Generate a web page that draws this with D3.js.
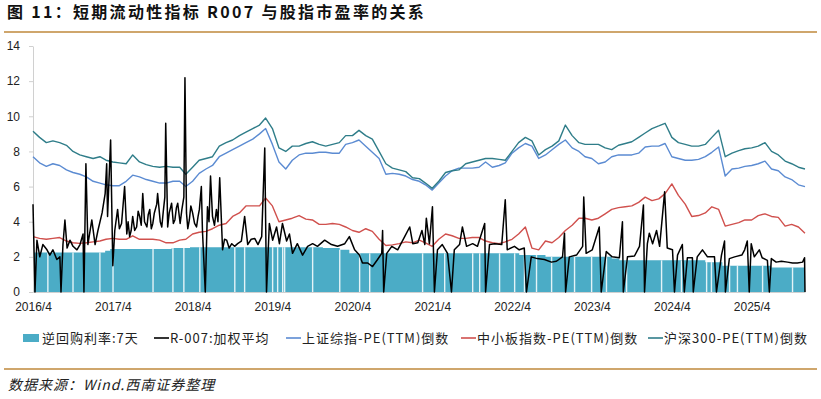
<!DOCTYPE html>
<meta charset="utf-8">
<style>
body { margin: 0; background: #fff; }
.axis text { font: 12px "Liberation Sans", Arial, sans-serif; fill: #222; }
.axis path, .axis line { stroke: #d0d0d0; }
.legend text { font: 13px "Noto Sans CJK SC", sans-serif; fill: #222; letter-spacing: 1px; }
</style>
<body>
<svg width="821" height="399"></svg>
<script src="https://d3js.org/d3.v7.min.js"></script>
<script>

// ---- data ----
var yTicks = [0, 2, 4, 6, 8, 10, 12, 14];
var xTickLabels = ["2016/4", "2017/4", "2018/4", "2019/4", "2020/4", "2021/4", "2022/4", "2023/4", "2024/4", "2025/4"];

// monthly, starting 2016/4
var peStart = "2016-04-01";
var hs300InvPE = [9.15,8.8,8.5,8.6,8.5,8.35,8.0,7.8,7.7,7.6,
  7.7,7.5,7.4,7.35,7.3,7.8,7.4,7.25,7.15,7.1,
  7.15,7.1,7.1,6.7,7.1,7.5,7.6,7.7,8.3,8.5,
  8.65,8.9,9.1,9.3,9.5,9.9,9.3,8.2,8.0,8.3,
  8.3,8.45,8.55,8.4,8.3,8.4,8.5,8.9,8.9,9.2,
  8.9,8.7,8.0,7.3,7.05,6.95,6.85,6.5,6.45,6.2,
  5.9,6.3,6.8,6.9,6.95,7.3,7.4,7.5,7.6,7.6,
  7.55,7.5,8.0,8.5,8.8,8.6,7.8,8.1,8.3,8.6,
  9.5,8.9,8.5,8.4,8.4,8.4,8.2,8.1,8.35,8.45,
  8.55,8.8,9.05,9.3,9.45,9.6,8.8,8.5,8.4,8.3,
  8.3,8.4,8.8,9.2,7.7,7.9,8.05,8.15,8.2,8.3,
  8.5,8.0,7.8,7.45,7.3,7.1,7.0];
var sseInvPE = [7.7,7.35,7.15,7.3,7.2,6.95,6.8,6.7,6.55,6.3,
  6.2,6.1,6.05,6.05,6.3,6.65,6.55,6.4,6.3,6.2,
  6.2,6.3,6.3,6.0,6.3,6.75,7.0,7.2,7.7,7.9,
  8.1,8.3,8.5,8.7,9.0,9.3,8.4,7.4,7.0,7.5,
  7.8,7.9,7.9,7.95,7.95,7.9,7.9,8.4,8.5,8.65,
  8.3,7.95,7.6,6.7,6.75,6.7,6.6,6.4,6.3,6.1,
  5.8,6.2,6.6,6.9,7.05,7.05,7.05,7.1,7.4,7.1,
  7.2,7.35,7.9,8.2,8.45,8.3,7.6,7.8,8.1,8.4,
  8.65,8.2,8.0,7.7,7.6,7.3,7.4,7.7,7.8,7.8,
  7.8,7.9,8.25,8.3,8.3,8.45,7.7,7.6,7.5,7.5,
  7.55,7.7,7.95,8.25,6.6,7.0,7.05,7.15,7.2,7.3,
  7.45,7.0,6.9,6.55,6.4,6.1,6.0];
var smeInvPE = [3.15,3.05,3.0,3.05,3.1,2.9,2.8,2.77,2.8,2.85,
  2.9,3.0,3.05,3.0,3.0,3.2,3.0,3.0,3.0,2.95,
  2.8,2.8,2.95,3.0,3.3,3.4,3.45,3.6,3.8,3.9,
  4.3,4.5,4.9,4.9,4.9,5.35,4.9,4.0,4.1,4.2,
  4.35,4.15,4.1,3.85,3.85,3.9,3.85,3.7,3.5,3.4,
  3.6,3.45,3.0,2.65,2.68,2.75,2.85,2.8,2.95,2.8,
  2.6,3.0,3.3,3.2,3.05,3.05,3.1,3.1,2.9,2.8,
  2.75,2.85,3.0,3.3,3.7,2.5,2.4,2.9,2.8,3.1,
  3.5,3.8,4.2,4.2,4.1,4.2,4.45,4.7,4.8,4.85,
  4.9,5.1,5.4,5.2,5.3,5.6,6.15,5.5,5.0,4.3,
  4.35,4.5,4.85,4.7,3.75,3.85,3.95,4.1,4.1,4.35,
  4.45,4.3,4.25,3.75,3.85,3.7,3.35];

// R-007 weighted average (zeros are the gaps the source plots as 0)
var r007 = [
  ["2016-04-01",5.0],["2016-04-10",0],["2016-04-19",2.95],["2016-05-02",2.0],["2016-05-16",2.7],
  ["2016-06-04",2.4],["2016-06-17",2.1],["2016-07-01",2.4],["2016-07-19",1.85],["2016-08-02",2.0],
  ["2016-08-07",0],["2016-08-16",2.7],["2016-08-25",4.1],["2016-09-04",2.5],["2016-09-17",2.95],
  ["2016-10-01",2.6],["2016-10-19",2.4],["2016-11-02",2.7],["2016-11-16",3.3],["2016-11-20",0],
  ["2016-11-29",7.3],["2016-12-08",2.7],["2016-12-26",4.1],["2017-01-10",2.7],["2017-01-23",3.5],
  ["2017-02-11",4.5],["2017-02-25",5.6],["2017-03-04",7.3],["2017-03-08",4.3],["2017-03-22",8.65],
  ["2017-04-01",1.5],["2017-04-10",3.5],["2017-04-23",4.7],["2017-05-01",3.6],["2017-05-11",3.9],
  ["2017-05-25",6.0],["2017-06-04",3.3],["2017-06-10",4.0],["2017-06-17",3.15],["2017-06-24",3.5],
  ["2017-07-01",4.3],["2017-07-10",3.5],["2017-07-19",3.7],["2017-07-26",4.6],["2017-08-02",4.3],
  ["2017-08-09",3.8],["2017-08-16",5.6],["2017-08-24",4.0],["2017-09-04",3.7],["2017-09-10",4.4],
  ["2017-09-17",4.7],["2017-09-24",3.6],["2017-10-01",3.9],["2017-10-08",4.5],["2017-10-19",5.0],
  ["2017-10-23",5.6],["2017-11-04",4.0],["2017-11-11",3.7],["2017-11-18",4.6],["2017-11-25",5.4],
  ["2017-11-29",9.6],["2017-12-08",3.7],["2017-12-15",4.5],["2017-12-26",5.05],["2018-01-03",3.9],
  ["2018-01-10",4.1],["2018-01-17",4.8],["2018-01-23",5.05],["2018-02-03",3.9],["2018-02-11",4.7],
  ["2018-02-20",5.4],["2018-02-25",12.2],["2018-03-04",4.5],["2018-03-10",3.6],["2018-03-17",4.1],
  ["2018-03-24",4.9],["2018-04-01",4.5],["2018-04-10",3.9],["2018-04-19",3.7],["2018-04-26",4.3],
  ["2018-05-02",4.7],["2018-05-11",6.0],["2018-05-16",3.5],["2018-05-29",0],["2018-06-08",4.85],
  ["2018-06-15",4.0],["2018-06-22",6.6],["2018-07-01",4.3],["2018-07-10",3.8],["2018-07-19",4.7],
  ["2018-07-26",4.0],["2018-08-03",6.5],["2018-08-16",2.4],["2018-08-25",3.0],["2018-09-04",2.95],
  ["2018-09-15",2.5],["2018-09-27",2.75],["2018-10-10",2.6],["2018-10-24",2.75],["2018-11-10",2.9],
  ["2018-11-25",4.3],["2018-12-09",2.7],["2018-12-25",3.0],["2019-01-10",3.05],["2019-01-25",2.7],
  ["2019-02-11",3.15],["2019-02-25",8.2],["2019-03-05",0],["2019-03-18",3.9],
  ["2019-04-02",2.95],["2019-04-20",3.7],["2019-05-03",2.75],["2019-05-17",3.9],["2019-06-05",2.9],
  ["2019-06-18",3.3],["2019-07-02",2.2],["2019-07-24",2.75],["2019-08-17",2.1],["2019-09-09",2.6],
  ["2019-10-02",2.75],["2019-10-24",2.6],["2019-11-26",2.95],["2019-12-27",2.7],["2020-01-24",2.6],
  ["2020-02-26",2.75],["2020-03-18",3.15],["2020-04-11",2.4],["2020-05-03",2.1],["2020-05-17",1.65],
  ["2020-06-10",1.65],["2020-07-02",1.45],["2020-07-25",1.85],["2020-08-13",2.2],["2020-08-17",3.5],
  ["2020-08-22",0],["2020-09-05",2.2],["2020-09-28",2.6],["2020-10-25",2.4],["2020-11-26",3.15],
  ["2020-12-19",3.7],["2021-01-02",2.75],["2021-01-25",2.8],["2021-02-13",3.5],["2021-02-26",2.7],
  ["2021-03-05",4.2],["2021-03-19",2.75],["2021-04-02",4.85],["2021-04-11",0],["2021-04-25",2.4],
  ["2021-05-17",2.7],["2021-06-10",2.2],["2021-06-28",0],["2021-07-11",2.4],["2021-08-04",2.7],
  ["2021-08-17",3.7],["2021-09-05",2.6],["2021-10-03",2.75],["2021-10-25",2.6],["2021-11-27",3.9],
  ["2021-12-01",0],["2021-12-19",2.7],["2022-01-12",2.75],["2022-02-13",2.7],["2022-03-01",5.25],
  ["2022-03-10",2.4],["2022-04-12",2.6],["2022-05-04",2.4],["2022-05-27",2.5],["2022-06-06",0],
  ["2022-06-28",2.0],["2022-07-25",1.9],["2022-08-27",1.85],["2022-09-28",1.7],["2022-10-21",1.75],
  ["2022-11-18",2.0],["2022-11-27",3.35],["2022-12-02",0],["2022-12-19",2.0],["2023-01-21",2.1],
  ["2023-02-18",2.6],["2023-02-23",5.4],["2023-03-06",2.2],["2023-04-03",2.4],["2023-05-05",3.7],
  ["2023-05-14",0],["2023-06-06",2.3],["2023-07-03",2.0],["2023-08-05",1.95],["2023-08-19",4.0],
  ["2023-08-23",0],["2023-09-11",2.0],["2023-10-13",2.05],["2023-11-05",2.6],["2023-11-23",4.95],
  ["2023-11-28",0],["2023-12-11",2.75],["2023-12-20",3.35],["2024-01-04",2.75],["2024-01-22",3.5],
  ["2024-02-05",2.6],["2024-02-28",5.7],["2024-03-11",2.5],["2024-04-04",2.4],["2024-04-13",0],
  ["2024-04-27",2.1],["2024-05-19",2.7],["2024-05-28",0],["2024-06-11",1.95],["2024-07-04",1.95],
  ["2024-07-08",0],["2024-07-26",2.0],["2024-08-19",2.4],["2024-09-11",2.0],["2024-10-13",2.0],
  ["2024-10-22",0],["2024-11-14",2.1],["2024-11-28",2.9],["2024-12-02",0],["2024-12-20",1.9],
  ["2025-01-13",2.0],["2025-02-15",2.1],["2025-02-28",2.4],["2025-03-12",2.9],["2025-03-21",0],
  ["2025-03-30",2.75],["2025-04-13",2.0],["2025-05-06",2.4],["2025-05-19",1.95],["2025-06-12",1.8],
  ["2025-06-21",0],["2025-06-30",1.9],["2025-07-22",1.7],["2025-08-15",1.75],["2025-09-12",1.7],
  ["2025-10-05",1.65],["2025-10-27",1.65],["2025-11-20",1.7],["2025-11-29",1.95],["2025-12-01",0]
];

// 7-day reverse repo rate, step changes
var reverseRepo7d = [
  ["2016-04-01",2.25],["2017-02-25",2.35],["2017-03-20",2.45],["2017-12-26",2.50],["2018-03-20",2.55],
  ["2019-11-18",2.50],["2020-02-03",2.40],["2020-03-18",2.20],["2022-05-04",2.10],["2022-09-01",2.00],
  ["2023-07-01",1.90],["2023-08-05",1.80],["2024-09-01",1.70],["2024-11-18",1.50],["2025-06-30",1.40],
  ["2025-12-01",1.40]
];
// days without an operation (white gaps in the bars)
var repoGaps = ["2016-06-08","2016-10-01","2017-02-01","2017-04-02","2017-10-02","2018-01-01","2018-02-20",
  "2018-05-04","2018-10-11","2018-11-25","2019-04-02","2019-04-25","2019-05-18","2019-05-27","2019-10-02",
  "2020-02-03","2020-05-04","2020-06-19","2021-02-16","2021-05-28","2021-10-03","2021-11-04","2022-02-03",
  "2022-04-13","2022-05-28","2022-07-22","2022-09-29","2023-01-12","2023-03-31","2023-06-07","2023-09-07",
  "2024-02-14","2024-05-15","2024-09-07","2024-09-29","2024-12-21","2025-01-26","2025-05-21","2025-10-05"];

// ---- chart ----
var svg = d3.select("svg"),
    margin = {top: 46, right: 16, bottom: 107, left: 33},
    width = +svg.attr("width") - margin.left - margin.right,
    height = +svg.attr("height") - margin.top - margin.bottom;

var parse = d3.timeParse("%Y-%m-%d");
var x = d3.scaleTime().domain([parse("2016-04-01"), parse("2025-12-01")]).range([0, width]);
var y = d3.scaleLinear().domain([0, 14]).range([height, 0]);

// title and rules
svg.append("text")
    .attr("x", 7).attr("y", 18)
    .style("font", "bold 16px 'Noto Sans CJK SC', sans-serif")
    .attr("letter-spacing", 2.3)
    .attr("fill", "#111")
    .text("图 11：短期流动性指标 R007 与股指市盈率的关系");
svg.append("rect").attr("x", 4).attr("y", 31).attr("width", 813).attr("height", 2).attr("fill", "#cfa66c");
svg.append("rect").attr("x", 4).attr("y", 368).attr("width", 813).attr("height", 2).attr("fill", "#cfa66c");
svg.append("text")
    .attr("x", 8).attr("y", 390)
    .style("font", "italic 14px 'Noto Sans CJK SC', sans-serif")
    .attr("letter-spacing", 1)
    .attr("fill", "#222")
    .text("数据来源：Wind.西南证券整理");

var g = svg.append("g").attr("transform", "translate(" + margin.left + "," + margin.top + ")");

// bars (reverse repo) as stepped area
var repo = reverseRepo7d.map(function(d) { return {date: parse(d[0]), value: d[1]}; });
g.append("path")
    .datum(repo)
    .attr("fill", "#4bacc6")
    .attr("d", d3.area().curve(d3.curveStepAfter)
        .x(function(d) { return x(d.date); })
        .y0(y(0))
        .y1(function(d) { return y(d.value); }));

var bisect = d3.bisector(function(d) { return d.date; }).right;
g.selectAll(".gap")
  .data(repoGaps.map(parse))
  .enter().append("line")
    .attr("class", "gap")
    .attr("x1", function(d) { return x(d); })
    .attr("x2", function(d) { return x(d); })
    .attr("y1", y(0))
    .attr("y2", function(d) { return y(repo[bisect(repo, d) - 1].value); })
    .attr("stroke", "#fff")
    .attr("stroke-opacity", 0.85)
    .attr("stroke-width", 1.4);

// axes
g.append("g")
    .attr("class", "axis")
    .call(d3.axisLeft(y).tickValues(yTicks).tickSize(4).tickSizeOuter(0).tickPadding(9));

var parseLabel = d3.timeParse("%Y/%m");
g.append("g")
    .attr("class", "axis x")
    .attr("transform", "translate(0," + height + ")")
    .call(d3.axisBottom(x)
        .tickValues(xTickLabels.map(parseLabel))
        .tickFormat(d3.timeFormat("%Y/%-m"))
        .tickSize(0).tickPadding(10));

// PE inverse lines
function monthly(values) {
  var start = parse(peStart);
  return values.map(function(v, i) { return {date: d3.timeMonth.offset(start, i), value: v}; });
}
var line = d3.line()
    .x(function(d) { return x(d.date); })
    .y(function(d) { return y(d.value); });

var series = [
  {name: "上证综指-PE(TTM)倒数", values: sseInvPE, color: "#5b8bd2"},
  {name: "中小板指数-PE(TTM)倒数", values: smeInvPE, color: "#d0504d"},
  {name: "沪深300-PE(TTM)倒数", values: hs300InvPE, color: "#2f7d89"}
];
series.forEach(function(s) {
  g.append("path")
      .datum(monthly(s.values))
      .attr("fill", "none")
      .attr("stroke", s.color)
      .attr("stroke-width", 1.4)
      .attr("stroke-linejoin", "round")
      .attr("d", line);
});

// R007
g.append("path")
    .datum(r007.map(function(d) { return {date: parse(d[0]), value: d[1]}; }))
    .attr("fill", "none")
    .attr("stroke", "#000")
    .attr("stroke-width", 1.5)
    .attr("stroke-linejoin", "round")
    .attr("d", line);

// legend
var legend = svg.append("g").attr("class", "legend");
var ly = 338;
legend.append("rect").attr("x", 23).attr("y", ly - 4).attr("width", 16).attr("height", 8).attr("fill", "#4bacc6");
legend.append("text").attr("x", 42).attr("y", ly).attr("dy", "0.35em").text("逆回购利率:7天");
var lineItems = [
  {name: "R-007:加权平均", color: "#000", x0: 154},
  {name: series[0].name, color: series[0].color, x0: 286},
  {name: series[1].name, color: series[1].color, x0: 461},
  {name: series[2].name, color: series[2].color, x0: 648}
];
lineItems.forEach(function(d) {
  legend.append("line").attr("x1", d.x0).attr("x2", d.x0 + 15).attr("y1", ly).attr("y2", ly)
      .attr("stroke", d.color).attr("stroke-width", 1.6);
  legend.append("text").attr("x", d.x0 + 16).attr("y", ly).attr("dy", "0.35em").text(d.name);
});

</script>
</body>
